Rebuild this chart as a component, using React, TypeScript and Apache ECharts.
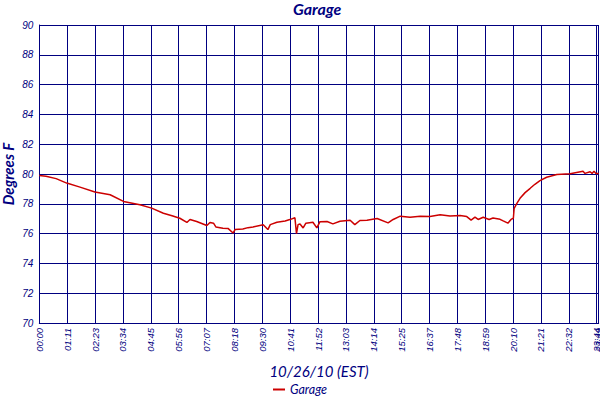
import React, { useEffect, useRef } from "react";
import * as echarts from "echarts";

// time of day in minutes since 00:00
const times: number[] = [
  0, 17, 43, 70, 104, 142, 181, 215, 257, 287, 317, 339, 359, 377, 385, 402,
  428, 436, 445, 451, 469, 482, 495, 500, 520, 533, 546, 572, 584, 590, 607,
  628, 640, 653, 657, 661, 666, 674, 681, 699, 709, 717, 735, 750, 768, 794,
  806, 819, 837, 863, 891, 904, 922, 947, 973, 998, 1024, 1049, 1075, 1092,
  1103, 1113, 1121, 1134, 1149, 1159, 1177, 1185, 1197, 1205, 1211, 1213,
  1220, 1228, 1241, 1254, 1266, 1279, 1296, 1322, 1356, 1389, 1394, 1407,
  1412, 1417, 1422, 1429,
];
// garage temperature, degrees F
const temps: number[] = [
  79.9, 79.85, 79.69, 79.39, 79.12, 78.79, 78.61, 78.16, 77.93, 77.71, 77.37,
  77.2, 77.03, 76.75, 76.95, 76.81, 76.54, 76.75, 76.7, 76.45, 76.36, 76.35,
  76.04, 76.27, 76.31, 76.4, 76.45, 76.6, 76.27, 76.6, 76.76, 76.85, 76.94,
  77.06, 76.0, 76.6, 76.65, 76.38, 76.7, 76.76, 76.38, 76.8, 76.81, 76.65,
  76.83, 76.9, 76.6, 76.88, 76.9, 77.01, 76.72, 76.95, 77.17, 77.1, 77.17,
  77.15, 77.26, 77.18, 77.21, 77.14, 76.9, 77.1, 76.95, 77.1, 76.95, 77.05,
  76.96, 76.85, 76.7, 76.95, 77.03, 77.7, 78.03, 78.37, 78.75, 79.04, 79.31,
  79.55, 79.78, 79.96, 80.02, 80.18, 80.04, 80.15, 80.04, 80.18, 80.04, 80.04,
];
const tickLabels: string[] = [
  "00:00", "01:11", "02:23", "03:34", "04:45", "05:56", "07:07", "08:18",
  "09:30", "10:41", "11:52", "13:03", "14:14", "15:25", "16:37", "17:48",
  "18:59", "20:10", "21:21", "22:32", "23:44", "23:49",
];
const seriesName = "Garage";
const TICK_STEP = 71.2;
const X_MAX = 1429;

const NAVY = "#000080";
const TITLE_FONT = "Lato";

const tickLabelStyle = {
  rotate: 90,
  margin: 5,
  hideOverlap: false,
  fontFamily: "Liberation Sans",
  fontStyle: "italic",
  fontSize: 9.5,
  color: NAVY,
};

export default function App() {
  const ref = useRef<HTMLDivElement>(null);
  useEffect(() => {
    if (!ref.current) return;
    const chart = echarts.init(ref.current, null, { renderer: "svg" });
    const data = times.map((t, i) => [t, temps[i]]);
    chart.setOption({
      animation: false,
      backgroundColor: "#ffffff",
      title: {
        text: "Garage",
        left: 288,
        top: -5,
        textStyle: {
          fontFamily: TITLE_FONT,
          fontStyle: "italic",
          fontWeight: "bold",
          fontSize: 16,
          color: NAVY,
        },
      },
      legend: {
        data: [seriesName],
        left: "center",
        top: 378,
        icon: "rect",
        itemWidth: 12,
        itemHeight: 2,
        itemGap: 4,
        textStyle: {
          fontFamily: TITLE_FONT,
          fontStyle: "italic",
          fontSize: 12.5,
          color: NAVY,
        },
      },
      grid: {
        left: 39.3,
        right: 1.3,
        top: 25,
        bottom: 77,
        containLabel: false,
        outerBoundsMode: "none",
      },
      xAxis: [
        {
          type: "value",
          min: 0,
          max: X_MAX,
          interval: TICK_STEP,
          name: "10/26/10 (EST)",
          nameLocation: "middle",
          nameGap: 40,
          nameTextStyle: {
            fontFamily: TITLE_FONT,
            fontStyle: "italic",
            fontSize: 15,
            color: NAVY,
          },
          axisLine: { show: true, lineStyle: { color: NAVY, width: 1 } },
          axisTick: { show: false },
          splitLine: {
            show: true,
            showMinLine: true,
            showMaxLine: true,
            lineStyle: { color: NAVY, width: 1 },
          },
          axisLabel: {
            ...tickLabelStyle,
            showMaxLabel: false,
            formatter: (v: number) => {
              if (v >= X_MAX - 0.5) return "";
              return tickLabels[Math.round(v / TICK_STEP)] ?? "";
            },
          },
        },
        {
          type: "value",
          position: "bottom",
          min: 0,
          max: X_MAX,
          interval: TICK_STEP,
          axisLine: { show: false },
          axisTick: { show: false },
          splitLine: { show: false },
          axisLabel: {
            ...tickLabelStyle,
            showMaxLabel: true,
            formatter: (v: number) =>
              v >= X_MAX - 0.5 ? tickLabels[tickLabels.length - 1] : "",
          },
        },
      ],
      yAxis: {
        type: "value",
        min: 70,
        max: 90,
        interval: 2,
        name: "Degrees F",
        nameLocation: "middle",
        nameGap: 24,
        nameMoveOverlap: false,
        nameTextStyle: {
          fontFamily: TITLE_FONT,
          fontStyle: "italic",
          fontWeight: "bold",
          fontSize: 15,
          color: NAVY,
        },
        axisLine: { show: true, lineStyle: { color: NAVY, width: 1 } },
        axisTick: { show: false },
        splitLine: { show: true, lineStyle: { color: NAVY, width: 1 } },
        axisLabel: {
          margin: 6,
          fontFamily: "Liberation Sans",
          fontStyle: "italic",
          fontSize: 10,
          color: NAVY,
        },
      },
      series: [
        {
          name: seriesName,
          type: "line",
          xAxisIndex: 0,
          data,
          showSymbol: false,
          symbol: "none",
          color: "#cc0000",
          lineStyle: { color: "#cc0000", width: 1.5 },
        },
      ],
    });
    return () => chart.dispose();
  }, []);
  return (
    <div
      ref={ref}
      style={{ position: "fixed", left: 0, top: 0, width: 600, height: 400 }}
    />
  );
}
